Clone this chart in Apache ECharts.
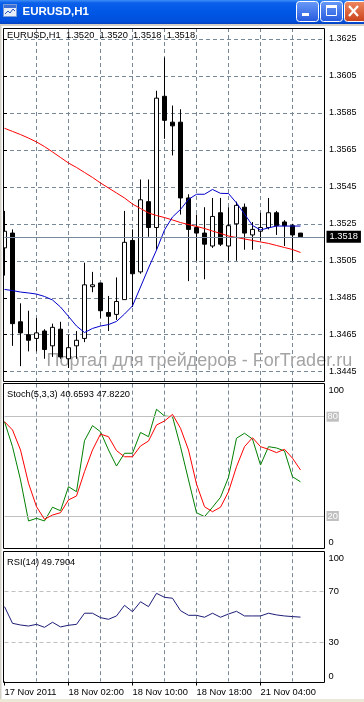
<!DOCTYPE html>
<html><head><meta charset="utf-8">
<style>html,body{margin:0;padding:0;background:#fff;overflow:hidden}#c{width:364px;height:702px}</style>
<script src="https://cdn.jsdelivr.net/npm/echarts@6/dist/echarts.min.js"></script>
</head><body><div id="c"></div>
<script>
const symbol = 'EURUSD,H1';
const categories = [
 '2011.11.17 18:00','2011.11.17 19:00','2011.11.17 20:00','2011.11.17 21:00','2011.11.17 22:00','2011.11.17 23:00',
 '2011.11.18 00:00','2011.11.18 01:00','2011.11.18 02:00','2011.11.18 03:00','2011.11.18 04:00','2011.11.18 05:00',
 '2011.11.18 06:00','2011.11.18 07:00','2011.11.18 08:00','2011.11.18 09:00','2011.11.18 10:00','2011.11.18 11:00',
 '2011.11.18 12:00','2011.11.18 13:00','2011.11.18 14:00','2011.11.18 15:00','2011.11.18 16:00','2011.11.18 17:00',
 '2011.11.18 18:00','2011.11.18 19:00','2011.11.18 20:00','2011.11.18 21:00',
 '2011.11.21 00:00','2011.11.21 01:00','2011.11.21 02:00','2011.11.21 03:00','2011.11.21 04:00','2011.11.21 05:00',
 '2011.11.21 06:00','2011.11.21 07:00','2011.11.21 08:00','2011.11.21 09:00',
 '', '', ''
];
const tickIndex = [0, 8, 16, 24, 32];
const tickLabels = ['17 Nov 2011', '18 Nov 02:00', '18 Nov 10:00', '18 Nov 18:00', '21 Nov 04:00'];

const opens  = [1.3512,1.3520,1.3472,1.3465,1.3463,1.3467,1.3459,1.3468,1.3452,1.3459,
                1.3463,1.3491,1.3493,1.3477,1.3476,1.3484,1.3516,1.3499,1.3537,1.3523,
                1.3594,1.3580,1.3580,1.3539,1.3523,1.3520,1.3513,1.3531,1.3513,1.3525,
                1.3534,1.3519,1.3521,1.3523,1.3531,1.3526,1.3524,1.3520];
const closes = [1.3521,1.3471,1.3466,1.3462,1.3466,1.3457,1.3469,1.3453,1.3458,1.3462,
                1.3492,1.3492,1.3478,1.3475,1.3483,1.3515,1.3498,1.3538,1.3523,1.3593,
                1.3581,1.3578,1.3539,1.3522,1.3520,1.3514,1.3529,1.3514,1.3524,1.3535,
                1.3520,1.3522,1.3523,1.3531,1.3524,1.3524,1.3519,1.3518];
const lows   = [1.3497,1.3459,1.3448,1.3456,1.3456,1.3452,1.3453,1.3452,1.3447,1.3452,
                1.3461,1.3488,1.3474,1.3467,1.3473,1.3484,1.3480,1.3498,1.3518,1.3511,
                1.3571,1.3562,1.3530,1.3494,1.3505,1.3495,1.3512,1.3513,1.3505,1.3505,
                1.3511,1.3511,1.3516,1.3522,1.3519,1.3513,1.3505,1.3518];
const highs  = [1.3532,1.3522,1.3482,1.3478,1.3474,1.3468,1.3471,1.3472,1.3465,1.3467,
                1.3504,1.3499,1.3493,1.3486,1.3496,1.3532,1.3522,1.3549,1.3549,1.3597,
                1.3615,1.3589,1.3587,1.3541,1.3530,1.3534,1.3539,1.3539,1.3534,1.3537,
                1.3536,1.3526,1.3531,1.3539,1.3532,1.3527,1.3525,1.3520];
const maRed  = [1.35767,1.35750,1.35733,1.35714,1.35693,1.35668,1.35639,1.35609,1.35579,1.35555,
                1.35528,1.35501,1.35471,1.35444,1.35417,1.35390,1.35357,1.35333,1.35309,1.35295,
                1.35284,1.35271,1.35257,1.35246,1.35236,1.35225,1.35211,1.35198,1.35184,1.35176,
                1.35168,1.35160,1.35152,1.35144,1.35133,1.35122,1.35111,1.35095];
const maBlue = [1.34895,1.34889,1.34881,1.34876,1.34870,1.34857,1.34838,1.34800,1.34749,1.34697,
                1.34662,1.34684,1.34697,1.34705,1.34722,1.34762,1.34806,1.34908,1.35011,1.35108,
                1.35217,1.35287,1.35328,1.35382,1.35410,1.35410,1.35436,1.35415,1.35414,1.35363,
                1.35303,1.35241,1.35217,1.35228,1.35238,1.35238,1.35238,1.35238];
const stochMain   = [77.0,61.9,41.8,17.0,18.6,17.0,25.3,23.2,37.7,34.7,
                     65.5,74.6,70.9,59.9,50.2,57.9,57.9,70.5,67.9,84.5,
                     80.4,80.0,61.9,41.8,22.0,19.6,25.3,31.3,43.4,67.0,
                     70.0,66.5,50.8,61.9,61.1,59.3,43.7,40.6593];
const stochSignal = [77.0,72.0,59.9,39.8,25.6,18.0,20.6,22.0,29.7,32.1,
                     46.8,59.9,69.5,67.9,59.5,55.8,55.8,62.3,65.3,75.0,
                     77.4,81.4,73.0,59.9,39.3,25.6,22.6,25.3,34.7,49.8,
                     61.9,67.3,61.9,60.3,58.3,60.3,54.9,47.8220];
const rsi = [57.9,45.0,43.7,42.9,44.2,41.9,45.8,42.2,43.5,44.2,
             52.8,52.8,49.4,48.1,50.7,58.9,54.0,61.7,57.9,68.2,
             65.1,64.4,54.8,51.2,51.2,49.7,52.8,49.7,52.2,54.3,
             50.7,50.7,50.7,52.8,51.5,50.7,50.2,49.7904];
const priceTickMin = 1.3445, priceTickMax = 1.3625, priceTickStep = 0.0020;
const stochLevels = [80, 20];
const rsiLevels = [70, 30];

const FONT = 'Liberation Sans, Arial, sans-serif';
const GRIDC = '#778899';
const L = 4.5, R = 39.5;
const n = opens.length;
const last = n - 1;

const chart = echarts.init(document.getElementById('c'), null, {renderer: 'canvas'});

function catAxis(gi, withLabels) {
  return {
    type: 'category', gridIndex: gi, data: categories, boundaryGap: false,
    axisLine: {show: false},
    axisTick: {show: withLabels, interval: (i) => tickIndex.includes(i), length: 4, lineStyle: {color: '#000'}},
    axisLabel: {show: withLabels, interval: 0, align: 'left', margin: 6, color: '#000',
      fontFamily: FONT, fontSize: 9.3,
      formatter: (v, i) => { const k = tickIndex.indexOf(i); return k >= 0 ? tickLabels[k] : ''; }},
    splitLine: {show: true, interval: (i) => i > 0 && i < categories.length - 1 && i % 4 === 0,
      lineStyle: {color: GRIDC, type: [4, 3], width: 1}}
  };
}
const yLab = (top, bot) => ({
  margin: 4, color: '#000', fontFamily: FONT, fontSize: 9.3,
  rich: {t: {padding: [top, 0, 0, 0], fontFamily: FONT, fontSize: 9.3, color: '#000'},
         b: {padding: [0, 0, bot, 0], fontFamily: FONT, fontSize: 9.3, color: '#000'},
         n: {fontFamily: FONT, fontSize: 9.3, color: '#000'}}
});

const stochLab = yLab(14, 13);
stochLab.formatter = (v) => v === 100 ? '{t|100}' : (v === 0 ? '{b|0}' : '');
const rsiLab = yLab(12, 10);
rsiLab.formatter = (v) => v === 100 ? '{t|100}' : (v === 0 ? '{b|0}' : (rsiLevels.includes(v) ? '{n|' + v + '}' : ''));

const header = symbol + '  ' + [opens[last], highs[last], lows[last], closes[last]].map(v => v.toFixed(4)).join('  ');

const option = {
  animation: false,
  backgroundColor: '#ffffff',
  grid: [
    {left: L, right: R, top: 28, height: 353.7},
    {left: 3, right: 40, top: 39, height: 332.7},
    {left: L, right: R, top: 383.6, height: 165.5},
    {left: L, right: R, top: 552.2, height: 129.3}
  ],
  xAxis: [
    catAxis(0, false),
    {type: 'value', gridIndex: 1, min: 0, max: 1, show: false},
    catAxis(2, false),
    catAxis(3, true)
  ],
  yAxis: [
    {type: 'value', gridIndex: 0, min: 1.343959, max: 1.363095, show: false},
    {type: 'value', gridIndex: 1, min: priceTickMin, max: priceTickMax, interval: priceTickStep, position: 'right',
     axisLine: {show: false}, axisTick: {show: true, length: 4, lineStyle: {color: '#000'}},
     axisLabel: {margin: 5, color: '#000', fontFamily: FONT, fontSize: 9, formatter: (v) => v.toFixed(4)},
     splitLine: {show: true, lineStyle: {color: GRIDC, type: [4, 3], width: 1}}},
    {type: 'value', gridIndex: 2, min: 0, max: 100, interval: 20, position: 'right',
     axisLine: {show: false}, axisTick: {show: false}, splitLine: {show: false}, axisLabel: stochLab},
    {type: 'value', gridIndex: 3, min: 0, max: 100, interval: 10, position: 'right',
     axisLine: {show: false}, axisTick: {show: false}, splitLine: {show: false}, axisLabel: rsiLab}
  ],
  series: [
    {type: 'candlestick', xAxisIndex: 0, yAxisIndex: 0, barWidth: 5, clip: false, z: 3,
     data: opens.map((o, i) => [o, closes[i], lows[i], highs[i]]),
     itemStyle: {color: '#ffffff', color0: '#000000', borderColor: '#000000', borderColor0: '#000000', borderWidth: 1},
     markLine: {silent: true, symbol: 'none', animation: false, precision: 5,
       data: [{yAxis: closes[last]}],
       lineStyle: {color: '#778899', type: 'solid', width: 1},
       label: {show: true, position: 'end', distance: 2, formatter: (p) => Number(p.value).toFixed(4),
               backgroundColor: '#000', color: '#fff', padding: [2, 3, 1, 3], fontFamily: FONT, fontSize: 9.3},
       emphasis: {disabled: true}}},
    {type: 'line', xAxisIndex: 0, yAxisIndex: 0, data: maRed, symbol: 'none', z: 4,
     lineStyle: {color: '#ff0000', width: 1}},
    {type: 'line', xAxisIndex: 0, yAxisIndex: 0, data: maBlue, symbol: 'none', z: 4,
     lineStyle: {color: '#0000cc', width: 1}},
    {type: 'line', xAxisIndex: 2, yAxisIndex: 2, data: stochMain, symbol: 'none', z: 4,
     lineStyle: {color: '#008000', width: 1},
     markLine: {silent: true, symbol: 'none', animation: false, precision: 0,
       data: stochLevels.map(v => ({yAxis: v})),
       lineStyle: {color: '#c0c0c0', type: 'solid', width: 1},
       label: {show: true, position: 'end', distance: 2, formatter: (p) => String(p.value),
               backgroundColor: '#c0c0c0', color: '#ffffff', padding: [1, 1, 0, 1], fontFamily: FONT, fontSize: 9.3},
       emphasis: {disabled: true}}},
    {type: 'line', xAxisIndex: 2, yAxisIndex: 2, data: stochSignal, symbol: 'none', z: 5,
     lineStyle: {color: '#ff0000', width: 1}},
    {type: 'line', xAxisIndex: 3, yAxisIndex: 3, data: rsi, symbol: 'none', z: 4,
     lineStyle: {color: '#1c1c78', width: 1},
     markLine: {silent: true, symbol: 'none', animation: false, precision: 0,
       data: rsiLevels.map(v => ({yAxis: v})),
       lineStyle: {color: '#c0c0c0', type: [4, 3], width: 1},
       label: {show: false}, emphasis: {disabled: true}}}
  ],
  graphic: [
    {type: 'text', x: 46.5, y: 361, z: 1, silent: true,
     style: {text: 'Портал для трейдеров - ForTrader.ru', fill: '#a4a4a4', font: '18px ' + FONT,
             align: 'left', verticalAlign: 'middle', textAlign: 'left', textVerticalAlign: 'middle'}},
    {type: 'rect', z: 50, silent: true, shape: {x: 3.5, y: 28.5, width: 321, height: 353}, style: {fill: null, stroke: '#000', lineWidth: 1}},
    {type: 'rect', z: 50, silent: true, shape: {x: 3.5, y: 383.5, width: 321, height: 165}, style: {fill: null, stroke: '#000', lineWidth: 1}},
    {type: 'rect', z: 50, silent: true, shape: {x: 3.5, y: 551.5, width: 321, height: 131}, style: {fill: null, stroke: '#000', lineWidth: 1}},
    {type: 'rect', z: 49, silent: true, shape: {x: 0, y: 24, width: 3, height: 678}, style: {fill: '#ffffff'}},
    {type: 'rect', z: 51, silent: true, shape: {x: 0, y: 24, width: 1.5, height: 678}, style: {fill: '#d4d0c8'}},
    {type: 'rect', z: 51, silent: true, shape: {x: 0, y: 24, width: 364, height: 2}, style: {fill: '#d4d0c8'}},
    {type: 'rect', z: 51, silent: true, shape: {x: 0, y: 699, width: 364, height: 3}, style: {fill: '#ece9d8'}},
    {type: 'text', x: 7, y: 35, z: 60, silent: true,
     style: {text: header, fill: '#000', font: '9.3px ' + FONT, verticalAlign: 'middle', textVerticalAlign: 'middle'}},
    {type: 'text', x: 7, y: 394, z: 60, silent: true,
     style: {text: 'Stoch(5,3,3) ' + stochMain[last].toFixed(4) + ' ' + stochSignal[last].toFixed(4), fill: '#000', font: '9.3px ' + FONT, verticalAlign: 'middle', textVerticalAlign: 'middle'}},
    {type: 'text', x: 7, y: 562, z: 60, silent: true,
     style: {text: 'RSI(14) ' + rsi[last].toFixed(4), fill: '#000', font: '9.3px ' + FONT, verticalAlign: 'middle', textVerticalAlign: 'middle'}},
    {type: 'rect', z: 70, silent: true, shape: {x: 0, y: 0, width: 364, height: 24},
     style: {fill: new echarts.graphic.LinearGradient(0, 0, 0, 1, [
       {offset: 0, color: '#3d8ef5'}, {offset: 0.12, color: '#0b60ea'}, {offset: 0.5, color: '#0057e6'},
       {offset: 0.88, color: '#0050dc'}, {offset: 1, color: '#0440c2'}])}},
    {type: 'rect', z: 71, silent: true, shape: {x: 3.5, y: 4.5, width: 13, height: 12}, style: {fill: '#e6eef9', stroke: '#7d9ed4', lineWidth: 1}},
    {type: 'rect', z: 72, silent: true, shape: {x: 4, y: 5, width: 12, height: 3}, style: {fill: '#3a6fd8'}},
    {type: 'polyline', z: 72, silent: true, shape: {points: [[5, 14], [8, 11], [10, 13], [13, 9], [15, 11]]}, style: {stroke: '#2a58b8', lineWidth: 1, fill: null}},
    {type: 'text', x: 22.5, y: 11.5, z: 72, silent: true,
     style: {text: 'EURUSD,H1', fill: '#ffffff', font: 'bold 11.5px ' + FONT, verticalAlign: 'middle', textVerticalAlign: 'middle'}},
    {type: 'rect', z: 72, silent: true, shape: {x: 296.5, y: 1.5, width: 22, height: 20, r: 3},
     style: {fill: new echarts.graphic.LinearGradient(0, 0, 0, 1, [{offset: 0, color: '#6a9cf8'}, {offset: 1, color: '#2458de'}]), stroke: '#ffffff', lineWidth: 1}},
    {type: 'rect', z: 73, silent: true, shape: {x: 302, y: 13, width: 7, height: 3}, style: {fill: '#ffffff'}},
    {type: 'rect', z: 72, silent: true, shape: {x: 320.5, y: 1.5, width: 22, height: 20, r: 3},
     style: {fill: new echarts.graphic.LinearGradient(0, 0, 0, 1, [{offset: 0, color: '#6a9cf8'}, {offset: 1, color: '#2458de'}]), stroke: '#ffffff', lineWidth: 1}},
    {type: 'rect', z: 73, silent: true, shape: {x: 326.5, y: 5.5, width: 10, height: 10}, style: {fill: null, stroke: '#ffffff', lineWidth: 1}},
    {type: 'rect', z: 73, silent: true, shape: {x: 326, y: 5, width: 11, height: 3}, style: {fill: '#ffffff'}},
    {type: 'rect', z: 72, silent: true, shape: {x: 344.5, y: 1.5, width: 22, height: 20, r: 3},
     style: {fill: new echarts.graphic.LinearGradient(0, 0, 0, 1, [{offset: 0, color: '#f08a62'}, {offset: 1, color: '#c8401a'}]), stroke: '#ffffff', lineWidth: 1}},
    {type: 'line', z: 73, silent: true, shape: {x1: 349, y1: 6, x2: 358, y2: 16}, style: {stroke: '#ffffff', lineWidth: 2.2}},
    {type: 'line', z: 73, silent: true, shape: {x1: 358, y1: 6, x2: 349, y2: 16}, style: {stroke: '#ffffff', lineWidth: 2.2}}
  ]
};
chart.setOption(option);
</script>
</body></html>
